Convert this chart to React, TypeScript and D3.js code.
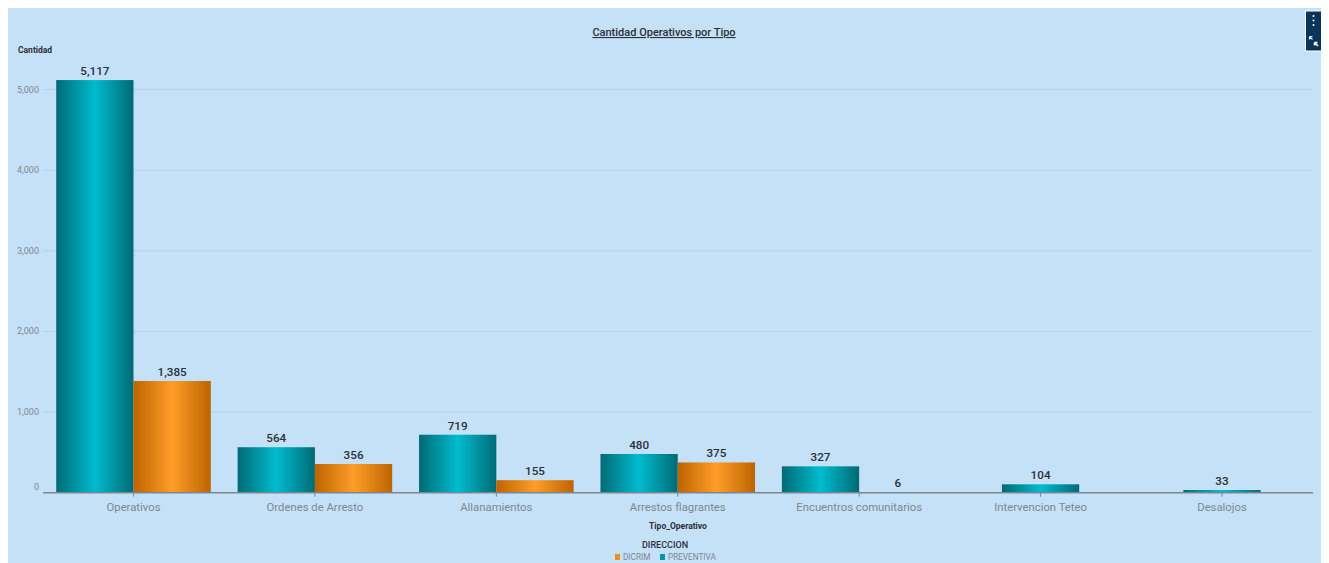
import React from "react";
import * as d3 from "d3";

const categories = ["Operativos", "Ordenes de Arresto", "Allanamientos", "Arrestos flagrantes", "Encuentros comunitarios", "Intervencion Teteo", "Desalojos"];
const preventiva: (number | null)[] = [5117, 564, 719, 480, 327, 104, 33];
const dicrim: (number | null)[] = [1385, 356, 155, 375, 6, null, null];
const yTicks = [0, 1000, 2000, 3000, 4000, 5000];
const legendItems = ["DICRIM", "PREVENTIVA"];

const W = 1329, H = 563;
const FONT = "Roboto, 'Open Sans', sans-serif";
const x = d3.scaleBand<string>().domain(categories).range([42.8, 1312.7]).paddingInner(0.148).paddingOuter(0.074);
const y = d3.scaleLinear().domain([0, 5000]).range([492.7, 89.5]);
const fmt = d3.format(",");

function Stops({ edge, mid, dark }: { edge: string; mid: string; dark: string }) {
  return (
    <>
      <stop offset="0" stopColor={edge} />
      <stop offset="0.5" stopColor={mid} />
      <stop offset="1" stopColor={dark} />
    </>
  );
}

export default function App() {
  const bw = x.bandwidth();
  const bars: { key: string; x: number; w: number; v: number; fill: string }[] = [];
  categories.forEach((c, i) => {
    const p = preventiva[i], d = dicrim[i];
    const x0 = x(c)!;
    if (p != null && d != null) {
      bars.push({ key: c + "p", x: x0, w: bw / 2, v: p, fill: "url(#teal)" });
      bars.push({ key: c + "d", x: x0 + bw / 2, w: bw / 2, v: d, fill: "url(#orange)" });
    } else if (p != null) {
      bars.push({ key: c + "p", x: x0 + bw / 4, w: bw / 2, v: p, fill: "url(#teal)" });
    }
  });
  return (
    <svg width={W} height={H} viewBox={`0 0 ${W} ${H}`} style={{ position: "absolute", left: 0, top: 0, display: "block", fontFamily: FONT }}>
      <defs>
        <linearGradient id="teal" x1="0" x2="1" y1="0" y2="0">
          <Stops edge="#006a75" mid="#00bccf" dark="#006a75" />
        </linearGradient>
        <linearGradient id="orange" x1="0" x2="1" y1="0" y2="0">
          <Stops edge="#bd6400" mid="#ff9d2a" dark="#bd6400" />
        </linearGradient>
      </defs>
      <rect x={8} y={8} width={1313} height={555} fill="#c5e1f8" />
      <text x={664} y={36} textAnchor="middle" fontSize={11} fontWeight={500} fill="#2a3038" textDecoration="underline">Cantidad Operativos por Tipo</text>
      <text x={18} y={53} fontSize={8.5} fontWeight={700} fill="#2a3038">Cantidad</text>

      {yTicks.map(t => (
        <g key={t}>
          {t > 0 && <line x1={43} x2={1313} y1={y(t)} y2={y(t)} stroke="#a9c3d8" strokeWidth={1} strokeDasharray="1 1" />}
          <text x={39} y={t === 0 ? y(t) - 2.5 : y(t) + 3} textAnchor="end" fontSize={9} fill="#7d8790">{fmt(t)}</text>
        </g>
      ))}

      {bars.map(b => (
        <rect key={b.key} x={b.x} y={y(b.v)} width={b.w} height={y(0) - y(b.v)} fill={b.fill} />
      ))}
      <line x1={43} x2={1313} y1={y(0)} y2={y(0)} stroke="#7b8791" strokeWidth={1.5} />

      {categories.map(c => {
        const cx = x(c)! + bw / 2;
        return (
          <g key={c}>
            <line x1={cx} x2={cx} y1={y(0)} y2={y(0) + 4} stroke="#7b8791" strokeWidth={1} />
            <text x={cx} y={511} textAnchor="middle" fontSize={11.3} fill="#7d8790">{c}</text>
          </g>
        );
      })}

      {bars.map(b => (
        <text key={b.key + "l"} x={b.x + b.w / 2} y={y(b.v) - 5} textAnchor="middle" fontSize={11.7} fontWeight={500} fill="#2a3038">{fmt(b.v)}</text>
      ))}

      <text x={678} y={529} textAnchor="middle" fontSize={8.5} fontWeight={700} fill="#2a3038">Tipo_Operativo</text>
      <text x={665} y={548} textAnchor="middle" fontSize={9} fontWeight={500} fill="#2a3038">DIRECCION</text>
      <rect x={615} y={554} width={5} height={6} fill="#f28c1e" />
      <text x={623} y={560} fontSize={8.2} fill="#7d8790">{legendItems[0]}</text>
      <rect x={660} y={554} width={5} height={6} fill="#0097a7" />
      <text x={668} y={560} fontSize={8.2} fill="#7d8790">{legendItems[1]}</text>

      <rect x={1305.5} y={11} width={16} height={40} fill="#0a3558" stroke="#fff" strokeWidth={1} />
      {[16, 20.5, 25].map(cy => <circle key={cy} cx={1313.5} cy={cy} r={1} fill="#fff" />)}
      <path d="M1309.5 36.5l3 3M1309.5 36.5h3M1309.5 36.5v3" stroke="#dfe8ef" strokeWidth={1.2} fill="none" />
      <path d="M1318 46l-3-3M1314.5 42.5h3M1314.5 42.5v3" stroke="#fff" strokeWidth={1.6} fill="none" />
    </svg>
  );
}
